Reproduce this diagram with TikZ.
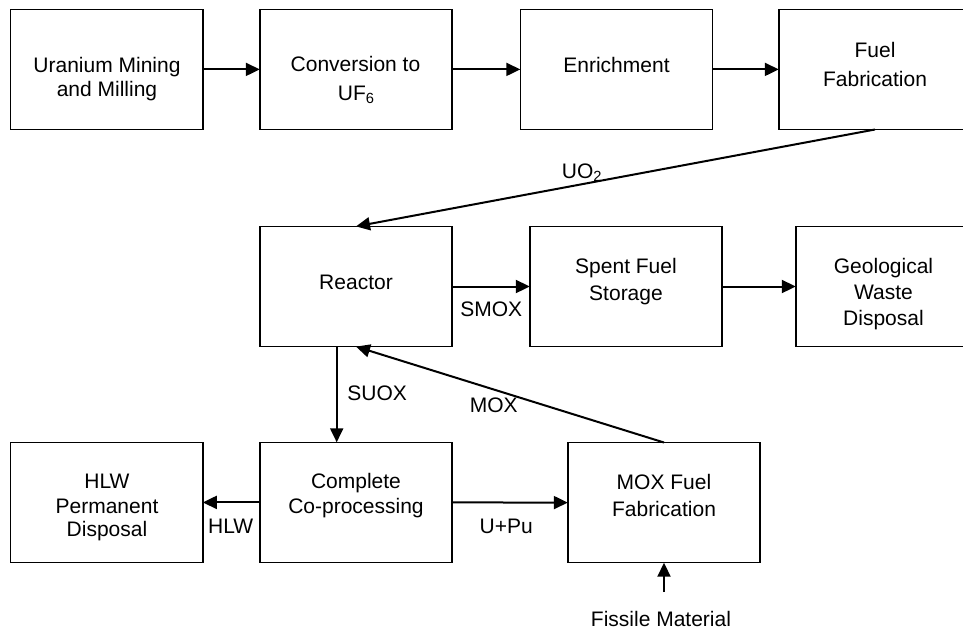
\documentclass[tikz,border=0pt]{standalone}
\usepackage{fontspec}
\setmainfont{Liberation Sans}
\usetikzlibrary{arrows.meta}

\begin{document}
\begin{tikzpicture}[x=1pt,y=-1pt,
  box/.style={draw, line width=1.5pt, minimum width=192.4pt, minimum height=120.2pt,
              inner sep=0pt, outer sep=0pt},
  txt/.style={inner sep=0pt, anchor=base, font=\fontsize{21}{24}\selectfont},
  flow/.style={line width=2pt, -{Triangle[length=14pt,width=13pt]}},
]
\useasboundingbox (0,0) rectangle (963,630);
\clip (0,0) rectangle (963,630);

% process boxes
\node[box] (mining)   at (106.9,69.4)  {};
\node[box] (convert)  at (356,69.4)    {};
\node[box] (enrich)   at (616.5,69.4)  {};
\node[box] (fuelfab)  at (875,69.4)    {};
\node[box] (reactor)  at (356,286.5)   {};
\node[box] (spent)    at (626,286.5)   {};
\node[box] (geo)      at (892,286.5)   {};
\node[box] (hlw)      at (106.6,502.4) {};
\node[box] (coproc)   at (356,502.4)   {};
\node[box] (moxfab)   at (664,502.6)   {};

% box captions
\node[txt] (mining-a)  at (107,72.7)   {Uranium Mining};
\node[txt] (mining-b)  at (107,96.7)   {and Milling};
\node[txt] (convert-a) at (355.5,71.7) {Conversion to};
\node[txt] (convert-b) at (356.3,100)  {UF\textsubscript{6}};
\node[txt] (enrich-a)  at (616.5,72.7) {Enrichment};
\node[txt] (fuelfab-a) at (875,57)     {Fuel};
\node[txt] (fuelfab-b) at (875,86)     {Fabrication};
\node[txt] (reactor-a) at (356,289)    {Reactor};
\node[txt] (spent-a)   at (626,273.3)  {Spent Fuel};
\node[txt] (spent-b)   at (626,300)    {Storage};
\node[txt] (geo-a)     at (883.5,273.3){Geological};
\node[txt] (geo-b)     at (883.5,299)  {Waste};
\node[txt] (geo-c)     at (883.5,325)  {Disposal};
\node[txt] (hlw-a)     at (107,488.3)  {HLW};
\node[txt] (hlw-b)     at (107,513)    {Permanent};
\node[txt] (hlw-c)     at (107,536.7)  {Disposal};
\node[txt] (coproc-a)  at (356,488)    {Complete};
\node[txt] (coproc-b)  at (356,513)    {Co-processing};
\node[txt] (moxfab-a)  at (664,489.3)  {MOX Fuel};
\node[txt] (moxfab-b)  at (664,516.7)  {Fabrication};

% flows
\draw[flow] (mining.east) -- (convert.west);
\draw[flow] (convert.east) -- (enrich.west);
\draw[flow] (enrich.east) -- (fuelfab.west);
\draw[flow] (fuelfab.south) -- (reactor.north);
\draw[flow] (reactor.east) -- (spent.west);
\draw[flow] (spent.east) -- (geo.west);
\draw[flow] ([xshift=-19.3pt]reactor.south) -- ([xshift=-19.3pt]coproc.north);
\draw[flow] (moxfab.north) -- (reactor.south);
\draw[flow] (coproc.west) -- (hlw.east);
\draw[flow] (coproc.east) -- (moxfab.west);
\coordinate (fissile-in) at (664,592);
\draw[flow] (fissile-in) -- (moxfab.south);

% flow labels
\node[txt, anchor=base west] (uo2)  at (561.7,178.3) {UO\textsubscript{2}};
\node[txt] (smox)  at (491.3,316)   {SMOX};
\node[txt] (suox)  at (377.2,400)   {SUOX};
\node[txt] (mox)   at (493.8,412.7) {MOX};
\node[txt] (hlwl)  at (230.7,533.3) {HLW};
\node[txt] (upu)   at (506.3,533)   {U+Pu};
\node[txt] (fissile) at (661,626.7) {Fissile Material};
\end{tikzpicture}
\end{document}
